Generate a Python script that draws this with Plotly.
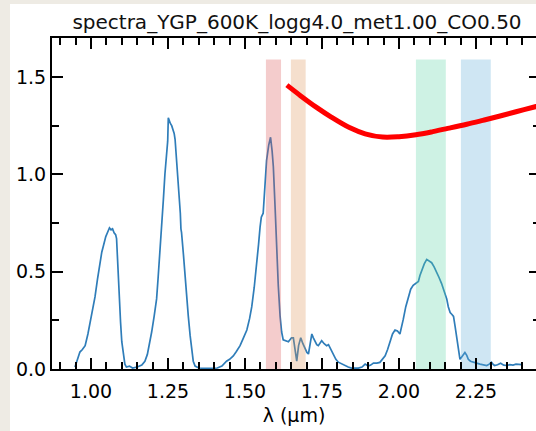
import plotly.graph_objects as go

# Model spectrum (wavelength in micron, flux)
spec_wl = [0.948, 0.955, 0.964, 0.972, 0.981, 0.990, 0.997, 1.005, 1.013, 1.021,
           1.029, 1.035, 1.040, 1.048, 1.056, 1.060, 1.065, 1.070, 1.075, 1.080,
           1.083, 1.087, 1.092, 1.096, 1.100, 1.105, 1.110, 1.115, 1.125, 1.135,
           1.150, 1.165, 1.175, 1.183, 1.190, 1.197, 1.205, 1.213, 1.218, 1.224,
           1.230, 1.235, 1.240, 1.246, 1.249, 1.251, 1.254, 1.258, 1.262, 1.266,
           1.270, 1.273, 1.278, 1.283, 1.288, 1.290, 1.292, 1.294, 1.300, 1.305,
           1.310, 1.316, 1.322, 1.327, 1.332, 1.338, 1.350, 1.380, 1.410, 1.425,
           1.440, 1.450, 1.462, 1.472, 1.484, 1.495, 1.506, 1.515, 1.522, 1.530,
           1.538, 1.544, 1.549, 1.553, 1.559, 1.565, 1.570, 1.577, 1.583, 1.588,
           1.592, 1.598, 1.603, 1.608, 1.614, 1.619, 1.624, 1.633, 1.641, 1.646,
           1.651, 1.657, 1.662, 1.668, 1.674, 1.681, 1.688, 1.695, 1.701, 1.706,
           1.712, 1.717, 1.722, 1.727, 1.733, 1.738, 1.743, 1.749, 1.757, 1.765,
           1.771, 1.776, 1.781, 1.787, 1.795, 1.803, 1.815, 1.825, 1.835, 1.846,
           1.857, 1.868, 1.880, 1.890, 1.900, 1.908, 1.917, 1.928, 1.938, 1.947,
           1.955, 1.963, 1.971, 1.979, 1.987, 1.995, 2.003, 2.008, 2.014, 2.022,
           2.030, 2.038, 2.046, 2.055, 2.063, 2.068, 2.074, 2.082, 2.090, 2.098,
           2.106, 2.114, 2.122, 2.130, 2.138, 2.146, 2.155, 2.160, 2.166, 2.172,
           2.177, 2.182, 2.187, 2.192, 2.198, 2.203, 2.207, 2.214, 2.220, 2.225,
           2.232, 2.240, 2.252, 2.263, 2.275, 2.285, 2.293, 2.300, 2.305, 2.310,
           2.320, 2.330, 2.340, 2.350, 2.360, 2.370, 2.380, 2.393, 2.398]
spec_flux = [0.010, 0.040, 0.087, 0.100, 0.120, 0.180, 0.240, 0.300, 0.370, 0.460,
             0.550, 0.600, 0.630, 0.680, 0.710, 0.725, 0.715, 0.720, 0.700, 0.690,
             0.670, 0.520, 0.360, 0.240, 0.140, 0.070, 0.025, 0.010, 0.015, 0.005,
             0.010, 0.020, 0.040, 0.075, 0.130, 0.190, 0.270, 0.360, 0.470, 0.600,
             0.730, 0.870, 1.000, 1.130, 1.170, 1.290, 1.270, 1.260, 1.250, 1.230,
             1.210, 1.180, 1.080, 0.960, 0.850, 0.800, 0.720, 0.700, 0.590, 0.480,
             0.380, 0.270, 0.170, 0.087, 0.040, 0.015, 0.005, 0.003, 0.005, 0.015,
             0.040, 0.050, 0.067, 0.090, 0.120, 0.160, 0.200, 0.260, 0.320, 0.420,
             0.530, 0.640, 0.730, 0.780, 0.800, 0.950, 1.070, 1.150, 1.190, 1.120,
             1.040, 0.820, 0.610, 0.430, 0.270, 0.190, 0.150, 0.145, 0.140, 0.150,
             0.160, 0.160, 0.100, 0.040, 0.120, 0.160, 0.130, 0.100, 0.085, 0.077,
             0.130, 0.180, 0.160, 0.140, 0.125, 0.120, 0.135, 0.145, 0.130, 0.120,
             0.125, 0.110, 0.090, 0.077, 0.050, 0.035, 0.025, 0.020, 0.010, 0.005,
             0.004, 0.005, 0.010, 0.025, 0.015, 0.020, 0.030, 0.030, 0.034, 0.050,
             0.068, 0.100, 0.140, 0.180, 0.200, 0.195, 0.180, 0.210, 0.256, 0.320,
             0.370, 0.410, 0.430, 0.440, 0.450, 0.480, 0.510, 0.540, 0.563, 0.555,
             0.546, 0.525, 0.500, 0.470, 0.440, 0.400, 0.360, 0.320, 0.290, 0.280,
             0.270, 0.220, 0.170, 0.110, 0.050, 0.060, 0.070, 0.085, 0.070, 0.050,
             0.040, 0.035, 0.030, 0.025, 0.020, 0.018, 0.025, 0.035, 0.025, 0.018,
             0.022, 0.030, 0.020, 0.018, 0.022, 0.020, 0.025, 0.020, 0.022]

# Smooth red curve
curve_wl = [1.636, 1.680, 1.731, 1.780, 1.839, 1.890, 1.947, 2.000, 2.055,
            2.110, 2.163, 2.220, 2.272, 2.325, 2.380, 2.445, 2.470]
curve_val = [1.458, 1.404, 1.345, 1.294, 1.240, 1.208, 1.191, 1.193, 1.203,
             1.219, 1.237, 1.257, 1.277, 1.298, 1.321, 1.348, 1.359]

# Highlighted wavelength windows
band_lo = [1.568, 1.649, 2.055, 2.201]
band_hi = [1.617, 1.697, 2.152, 2.298]
band_top = 1.59
band_colors = ["rgba(218,85,85,0.30)", "rgba(222,150,90,0.30)",
               "rgba(92,212,165,0.30)", "rgba(95,172,215,0.30)"]

title_text = "spectra_YGP_600K_logg4.0_met1.00_CO0.50"
x_label = "λ (µm)"

FONT = "DejaVu Sans"
W, H = 536, 431
ML, MR, MT, MB = 52, 0, 38, 62
plot_w = W - ML - MR
plot_h = H - MT - MB

fig = go.Figure()

fig.add_trace(go.Scatter(x=spec_wl, y=spec_flux, mode="lines",
                         line=dict(color="#2f7db9", width=1.7),
                         showlegend=False, hoverinfo="skip"))

for lo, hi, col in zip(band_lo, band_hi, band_colors):
    fig.add_trace(go.Scatter(x=[lo, hi, hi, lo, lo],
                             y=[0, 0, band_top, band_top, 0],
                             mode="lines", fill="toself", fillcolor=col,
                             line=dict(width=0), showlegend=False,
                             hoverinfo="skip"))

fig.add_trace(go.Scatter(x=curve_wl, y=curve_val, mode="lines",
                         line=dict(color="#ff0000", width=5, shape="spline",
                                   smoothing=1.0),
                         showlegend=False, hoverinfo="skip", yaxis="y2"))

tick_font = dict(family=FONT, size=19, color="black")

fig.update_layout(
    width=W, height=H,
    margin=dict(l=ML, r=MR, t=MT, b=MB),
    paper_bgcolor="#eeebe4",
    plot_bgcolor="white",
    font=dict(family=FONT, color="black"),
    title=dict(text=title_text, font=dict(family=FONT, size=20, color="#111"),
               x=(297 - ML) / plot_w, xanchor="center", xref="paper",
               y=1 - 22 / H, yanchor="middle", yref="container"),
    xaxis=dict(range=[0.8734, 2.4448], tick0=0, dtick=0.25, tickformat=".2f",
               ticks="inside", ticklen=11, tickwidth=2, tickcolor="black",
               minor=dict(ticks="inside", ticklen=7, tickwidth=1.5,
                          tickcolor="black", dtick=0.05, tick0=0),
               showline=True, linewidth=2, linecolor="black", mirror="ticks",
               showgrid=False, zeroline=False, tickfont=tick_font,
               ticklabelstandoff=4,
               title=dict(text=x_label, font=dict(family=FONT, size=19),
                          standoff=8)),
    yaxis=dict(range=[0, 1.7], tick0=0, dtick=0.5, tickformat=".1f",
               ticks="inside", ticklen=11, tickwidth=2, tickcolor="black",
               minor=dict(ticks="inside", ticklen=7, tickwidth=1.5,
                          tickcolor="black", dtick=0.25, tick0=0),
               showline=True, linewidth=2, linecolor="black", mirror=False,
               showgrid=False, zeroline=False, tickfont=tick_font),
    yaxis2=dict(overlaying="y", side="right", matches="y", range=[0, 1.7],
                tick0=0, dtick=0.5, ticks="inside", ticklen=7, tickwidth=2,
                tickcolor="black",
                minor=dict(ticks="inside", ticklen=3, tickwidth=1.5,
                           tickcolor="black", dtick=0.25, tick0=0),
                showline=False, showgrid=False, zeroline=False,
                showticklabels=False),
)

# White figure card over the textured backdrop
fig.add_shape(type="rect", xref="paper", yref="paper",
              x0=(10 - ML) / plot_w, x1=1.05,
              y0=-0.3, y1=(plot_h + MT - 4) / plot_h,
              fillcolor="white", line=dict(width=0), layer="below")

fig.write_html("out.html")
